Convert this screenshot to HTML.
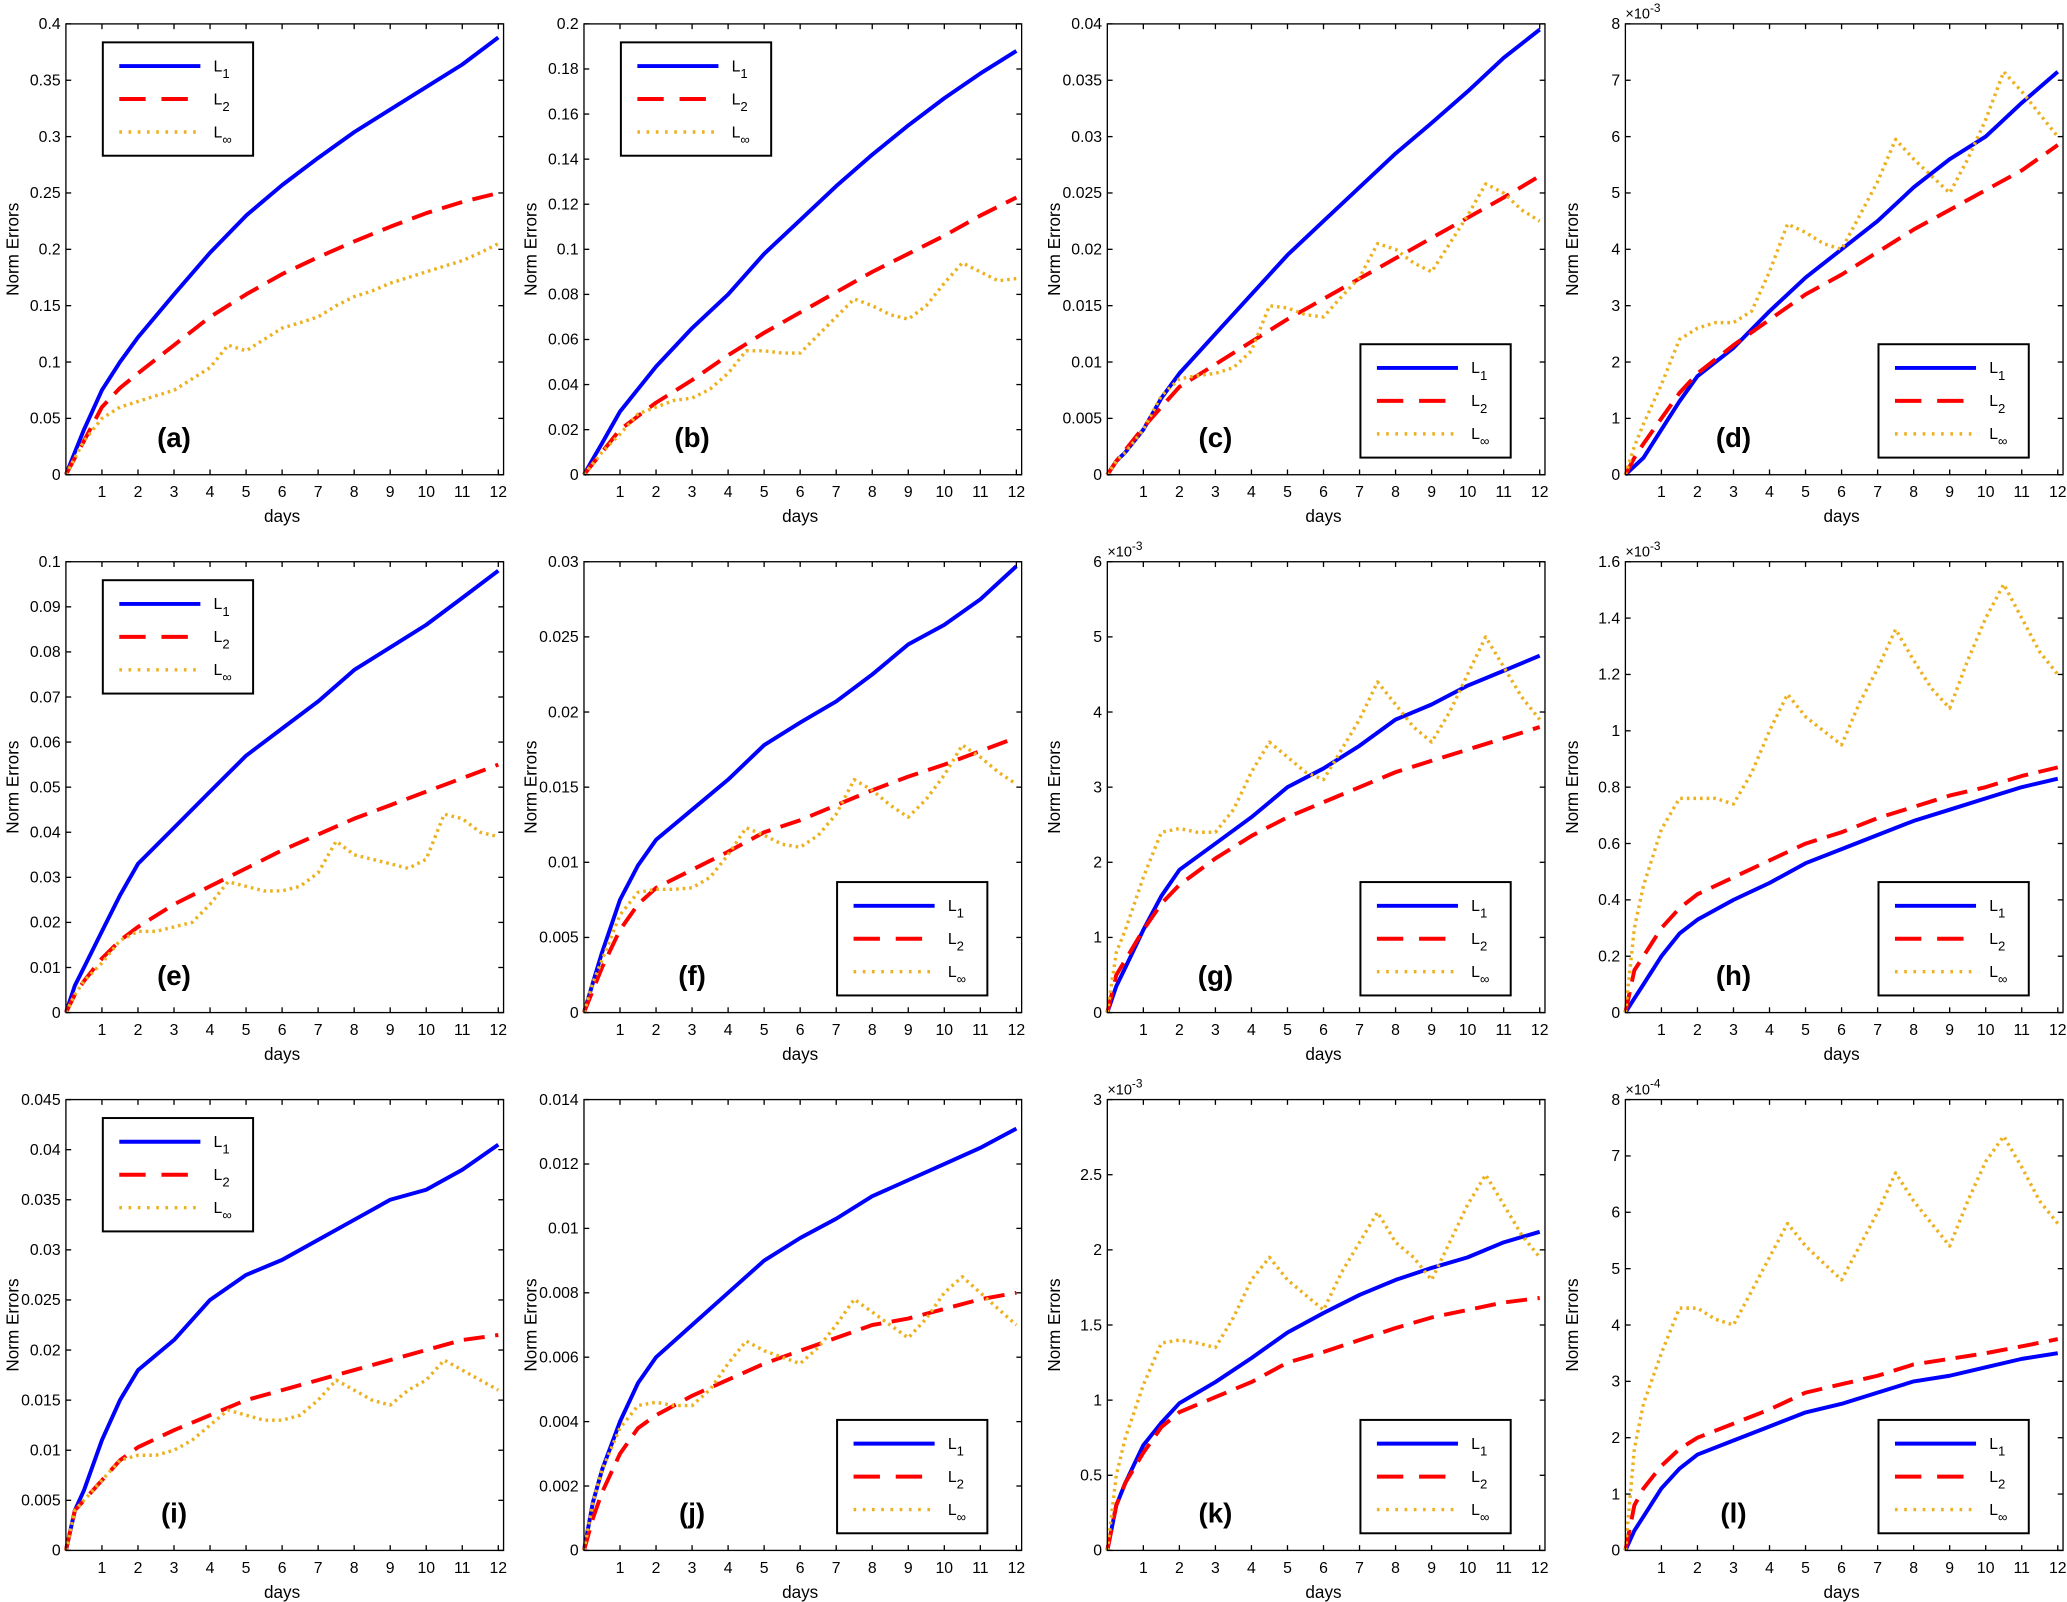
<!DOCTYPE html>
<html><head><meta charset="utf-8"><style>
html,body{margin:0;padding:0;background:#fff}
svg{display:block}
text{font-family:"Liberation Sans",Arial,sans-serif;fill:#000}
</style></head><body>
<svg id="fig" width="2067" height="1602" viewBox="0 0 1568 1215" xmlns="http://www.w3.org/2000/svg"></svg>
<script>
const D1=[0,.25,.5,1,1.5,2,3,4,5,6,7,8,9,10,11,12];
const D2=[0,.25,.5,1,1.5,2,2.5,3,3.5,4,4.5,5,5.5,6,6.5,7,7.5,8,8.5,9,9.5,10,10.5,11,11.5,12];
const xTicks=[1,2,3,4,5,6,7,8,9,10,11,12];
const panelLabels=['(a)','(b)','(c)','(d)','(e)','(f)','(g)','(h)','(i)','(j)','(k)','(l)'];
const yMax=[0.4,0.2,0.04,8,0.1,0.03,6,1.6,0.045,0.014,3,8];
const yStep=[0.05,0.02,0.005,1,0.01,0.005,1,0.2,0.005,0.002,0.5,1];
const yExp=['','','','-3','','','-3','-3','','','-3','-4'];
const legendPos=['tl','tl','br','br','tl','br','br','br','tl','br','br','br'];
const L1=[
[0,.02,.04,.075,.1,.122,.16,.197,.23,.257,.281,.304,.324,.344,.364,.388],
[0,.007,.014,.028,.038,.048,.065,.08,.098,.113,.128,.142,.155,.167,.178,.188],
[0,.0012,.002,.004,.0068,.009,.0125,.016,.0195,.0225,.0255,.0285,.0312,.034,.037,.0395],
[0,.15,.3,.8,1.3,1.75,2.25,2.9,3.5,4.0,4.5,5.1,5.6,6.0,6.6,7.15],
[0,.006,.01,.018,.026,.033,.041,.049,.057,.063,.069,.076,.081,.086,.092,.098],
[0,.002,.004,.0075,.0098,.0115,.0135,.0155,.0178,.0193,.0207,.0225,.0245,.0258,.0275,.0297],
[0,.35,.6,1.1,1.55,1.9,2.25,2.6,3.0,3.25,3.55,3.9,4.1,4.35,4.55,4.75],
[0,.05,.1,.2,.28,.33,.4,.46,.53,.58,.63,.68,.72,.76,.8,.83],
[0,.004,.006,.011,.015,.018,.021,.025,.0275,.029,.031,.033,.035,.036,.038,.0405],
[0,.0015,.0025,.004,.0052,.006,.007,.008,.009,.0097,.0103,.011,.0115,.012,.0125,.0131],
[0,.3,.45,.7,.85,.98,1.12,1.28,1.45,1.58,1.7,1.8,1.88,1.95,2.05,2.12],
[0,.35,.6,1.1,1.45,1.7,1.95,2.2,2.45,2.6,2.8,3.0,3.1,3.25,3.4,3.5]];
const L2=[
[0,.015,.03,.06,.077,.09,.115,.14,.16,.178,.193,.207,.22,.232,.242,.25],
[0,.005,.01,.02,.026,.032,.042,.053,.063,.072,.081,.09,.098,.106,.115,.123],
[0,.0012,.0022,.0042,.006,.0078,.0098,.0118,.0138,.0156,.0174,.0192,.021,.0228,.0246,.0265],
[0,.3,.55,1.0,1.45,1.8,2.3,2.75,3.2,3.55,3.95,4.35,4.7,5.05,5.4,5.85],
[0,.004,.007,.012,.016,.019,.024,.028,.032,.036,.0395,.043,.046,.049,.052,.055],
[0,.0015,.003,.0055,.0072,.0083,.0095,.0107,.012,.0128,.0138,.0148,.0157,.0165,.0174,.0183],
[0,.5,.7,1.1,1.45,1.7,2.05,2.35,2.6,2.8,3.0,3.2,3.35,3.5,3.65,3.8],
[0,.15,.2,.3,.37,.42,.48,.54,.6,.64,.69,.73,.77,.8,.84,.87],
[0,.004,.005,.007,.009,.0103,.012,.0135,.015,.016,.017,.018,.019,.02,.021,.0215],
[0,.001,.0018,.003,.0038,.0042,.0048,.0053,.0058,.0062,.0066,.007,.0072,.0075,.0078,.008],
[0,.3,.45,.65,.82,.92,1.02,1.12,1.25,1.32,1.4,1.48,1.55,1.6,1.65,1.68],
[0,.8,1.1,1.5,1.8,2.0,2.25,2.5,2.8,2.95,3.1,3.3,3.4,3.5,3.62,3.75]];
const LI=[
[0,.015,.03,.05,.06,.065,.07,.075,.085,.095,.115,.11,.12,.13,.135,.14,.15,.158,.163,.17,.175,.18,.185,.19,.197,.205],
[0,.005,.01,.018,.027,.03,.033,.034,.038,.045,.055,.055,.054,.054,.062,.07,.078,.075,.071,.069,.075,.085,.094,.09,.086,.087],
[0,.0012,.002,.004,.007,.0085,.0088,.009,.0095,.011,.015,.0148,.0142,.014,.0158,.0175,.0205,.02,.0188,.018,.0205,.023,.0258,.025,.0235,.0225],
[0,.5,.9,1.6,2.4,2.6,2.7,2.7,2.9,3.6,4.45,4.3,4.1,4.0,4.6,5.2,5.95,5.6,5.3,5.0,5.6,6.3,7.15,6.8,6.4,6.0],
[0,.004,.007,.011,.016,.018,.018,.019,.02,.024,.029,.028,.027,.027,.028,.031,.038,.035,.034,.033,.032,.034,.044,.043,.04,.039],
[0,.002,.0035,.0065,.008,.0082,.0082,.0083,.009,.0105,.0123,.0118,.0112,.011,.0118,.0132,.0155,.0148,.0138,.013,.0142,.0158,.0178,.017,.016,.0152],
[0,.8,1.1,1.8,2.4,2.45,2.4,2.4,2.7,3.2,3.6,3.4,3.2,3.1,3.5,3.9,4.4,4.1,3.8,3.6,4.0,4.5,5.0,4.6,4.2,3.9],
[0,.3,.45,.65,.76,.76,.76,.74,.85,1.0,1.13,1.05,1.0,.95,1.1,1.22,1.36,1.25,1.15,1.08,1.25,1.4,1.52,1.4,1.28,1.2],
[0,.004,.005,.007,.009,.0095,.0095,.01,.011,.0125,.014,.0135,.013,.013,.0135,.015,.017,.016,.015,.0145,.016,.017,.019,.018,.017,.016],
[0,.0015,.0025,.0038,.0045,.0046,.0045,.0045,.005,.0058,.0065,.0062,.006,.0058,.0063,.007,.0078,.0074,.007,.0066,.0072,.008,.0085,.008,.0075,.007],
[0,.5,.75,1.1,1.38,1.4,1.38,1.35,1.55,1.8,1.95,1.8,1.7,1.6,1.85,2.05,2.25,2.05,1.95,1.8,2.05,2.3,2.5,2.3,2.1,1.95],
[0,1.8,2.6,3.5,4.3,4.3,4.1,4.0,4.6,5.2,5.8,5.4,5.1,4.8,5.4,6.0,6.7,6.2,5.8,5.4,6.2,6.9,7.35,6.8,6.2,5.8]];

const NS='http://www.w3.org/2000/svg';
const svg=document.getElementById('fig');
function mk(tag,attrs,parent,txt){const e=document.createElementNS(NS,tag);for(const k in attrs)e.setAttribute(k,attrs[k]);if(txt!==undefined)e.textContent=txt;parent.appendChild(e);return e;}
const colL=[50,443,840,1233],W=332,rowT=[18,426,834],H=342;
function fmt(v,step){const d=Math.max(0,Math.ceil(-Math.log10(step)-1e-9));let s=v.toFixed(d+1);s=parseFloat(s).toString();return s;}
const styles=[{c:'#0000ff',w:3,d:''},{c:'#ff0000',w:3,d:'20 12'},{c:'#edb120',w:2.6,d:'2 5'}];
for(let p=0;p<12;p++){
  const L=colL[p%4],T=rowT[Math.floor(p/4)],R=L+W,B=T+H;
  const g=mk('g',{},svg);
  
  
  const xs=d=>L+d*(328/12), ys=v=>B-v/yMax[p]*H;
  mk('rect',{x:L,y:T,width:W,height:H,fill:'#fff'},g);
  const ser=[[D1,L1[p]],[D1,L2[p]],[D2,LI[p]]];
  const names=['l1-line','l2-line','linf-line'];
  const plotDash=['','16 8','2 3'];
  ser.forEach((s,i)=>{
    let pts=s[0].map((d,j)=>xs(d).toFixed(1)+','+ys(s[1][j]).toFixed(1)).join(' ');
    const pl=mk('polyline',{points:pts,fill:'none',stroke:styles[i].c,'stroke-width':styles[i].w,'stroke-dasharray':plotDash[i],'stroke-linejoin':'round'},g);
    
    
  });
  mk('rect',{x:L,y:T,width:W,height:H,fill:'none',stroke:'#000','stroke-width':1},g);
  xTicks.forEach(t=>{const x=xs(t);mk('line',{x1:x,y1:B,x2:x,y2:B-4,stroke:'#000'},g);mk('line',{x1:x,y1:T,x2:x,y2:T+4,stroke:'#000'},g);
    const tt=mk('text',{x:x,y:B+17,'font-size':12,'text-anchor':'middle'},g,t);});
  const n=Math.round(yMax[p]/yStep[p]);
  for(let k=0;k<=n;k++){const v=k*yStep[p],y=ys(v);
    mk('line',{x1:L,y1:y,x2:L+4,y2:y,stroke:'#000'},g);mk('line',{x1:R,y1:y,x2:R-4,y2:y,stroke:'#000'},g);
    const tt=mk('text',{x:L-4,y:y+4,'font-size':12,'text-anchor':'end'},g,fmt(v,yStep[p]));}
  if(yExp[p]){const e=mk('text',{x:L,y:T-4,'font-size':11},g);
    e.innerHTML='\u00d710<tspan dy="-5" font-size="9">'+yExp[p]+'</tspan>';}
  const xl=mk('text',{x:L+164,y:B+36,'font-size':13,'text-anchor':'middle'},g,'days');
  const yl=mk('text',{x:0,y:0,'font-size':13,'text-anchor':'middle',transform:`translate(${L-36},${T+H/2}) rotate(-90)`},g,'Norm Errors');
  const pl=mk('text',{x:L+82,y:B-21,'font-size':21,'font-weight':'bold','text-anchor':'middle'},g,panelLabels[p]);
  let lx,ly;if(legendPos[p]==='tl'){lx=L+28;ly=T+14;}else{lx=R-140;ly=B-99;}
  const lg=mk('g',{},g);
  mk('rect',{x:lx,y:ly,width:114,height:86,fill:'#fff',stroke:'#000','stroke-width':1.5},lg);
  const labs=['1','2','\u221e'];
  for(let i=0;i<3;i++){const yy=ly+18+i*25;
    mk('line',{x1:lx+12.5,y1:yy,x2:lx+74,y2:yy,stroke:styles[i].c,'stroke-width':styles[i].w,'stroke-dasharray':styles[i].d},lg);
    const t=mk('text',{x:lx+84,y:yy+4,'font-size':12},lg);
    t.innerHTML='L<tspan dy="5" font-size="10">'+labs[i]+'</tspan>';}
}
</script>
</body></html>
